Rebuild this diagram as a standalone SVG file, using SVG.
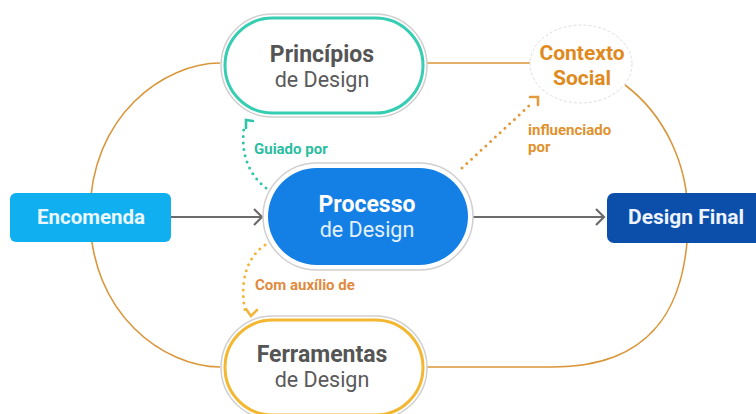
<svg xmlns="http://www.w3.org/2000/svg" width="756" height="414" viewBox="0 0 756 414">
<style>
text{font-family:Roboto,"Liberation Sans",Arial,sans-serif;text-anchor:middle}
.b{font-weight:700}
.ring{fill:none;stroke:#cfcfcf;stroke-width:1.5}
.loop{fill:none;stroke:#d9963a;stroke-width:1.6}
.arr{fill:none;stroke:#6b6b6b;stroke-width:2.2}
.dot{fill:none;stroke-width:3;stroke-linecap:round;stroke-dasharray:0 6.5}
.head{fill:none;stroke-width:2.6;stroke-linecap:round;stroke-linejoin:miter}
.lbl{font-size:15px;font-weight:700;text-anchor:start}
</style>
<rect width="756" height="414" fill="#fff"/>
<g id="connectors">
<path class="loop" d="M220,63 C165,63 90,115 90,215 C90,315 165,367 220,367"/>
<path class="loop" d="M427,63 L530,63"/>
<path class="loop" d="M625,85 C665,115 688,165 688,217 C688,310 650,367 553,367 L427,367"/>
<path class="arr" d="M171,217 L262,217 M254,209 L262,217 L254,225"/>
<path class="arr" d="M473,217 L604,217 M596,209 L604,217 L596,225"/>
<path class="dot" stroke="#2fc4a8" d="M266,188 C246,172 241,150 244,128"/>
<path class="head" stroke="#2fc4a8" d="M253,121 L246,120 L246,128"/>
<path class="dot" stroke="#e39a3c" d="M462,168 L531,104"/>
<path class="head" stroke="#e39a3c" d="M530,97 L538,97 L538,105"/>
<path class="dot" stroke="#f2b53a" d="M265,245 C245,258 240,285 245,310"/>
<path class="head" stroke="#f2b53a" d="M246,309 L251,316 L257,310"/>
<text class="lbl" x="254" y="154" fill="#2bbd9f">Guiado por</text>
<text class="lbl" x="528" y="135" fill="#e0922e">influenciado</text>
<text class="lbl" x="528" y="152" fill="#e0922e">por</text>
<text class="lbl" x="255" y="290" fill="#e08a3e">Com auxílio de</text>
</g>
<g id="principios">
<rect class="ring" x="221" y="14" width="206" height="103" rx="51.5"/>
<rect x="225" y="18" width="198" height="95" rx="47.5" fill="#fff" stroke="#36cdb2" stroke-width="3"/>
<text class="b" x="322" y="62" font-size="23" fill="#555">Princípios</text>
<text x="322" y="87" font-size="21.5" fill="#5a5a5a">de Design</text>
</g>
<g id="contexto">
<ellipse cx="581" cy="64" rx="51" ry="39" fill="#fff" stroke="#dedede" stroke-width="1" stroke-dasharray="3 2"/>
<text class="b" x="582" y="60" font-size="21" fill="#e08a1e">Contexto</text>
<text class="b" x="582" y="85" font-size="21" fill="#e08a1e">Social</text>
</g>
<g id="encomenda">
<rect x="10" y="193" width="161" height="49" rx="6" fill="#10aff0"/>
<text class="b" x="91" y="224" font-size="20.5" fill="#eaf7ff">Encomenda</text>
</g>
<g id="processo">
<rect class="ring" x="263" y="163" width="210" height="107" rx="53.5"/>
<rect x="268" y="168" width="200" height="97" rx="48.5" fill="#1480e6"/>
<text class="b" x="367" y="212" font-size="23" fill="#fff">Processo</text>
<text x="367" y="237" font-size="21.5" fill="#e2f0ff">de Design</text>
</g>
<g id="designfinal">
<rect x="607" y="193" width="160" height="50" rx="7" fill="#0b4fab"/>
<text class="b" x="686" y="224" font-size="21" fill="#eef4ff">Design Final</text>
</g>
<g id="ferramentas">
<rect class="ring" x="221" y="316" width="206" height="103" rx="51.5"/>
<rect x="225" y="320" width="198" height="95" rx="47.5" fill="#fff" stroke="#f4b731" stroke-width="3"/>
<text class="b" x="322" y="362" font-size="23" fill="#555">Ferramentas</text>
<text x="322" y="387" font-size="21.5" fill="#5a5a5a">de Design</text>
</g>
</svg>
